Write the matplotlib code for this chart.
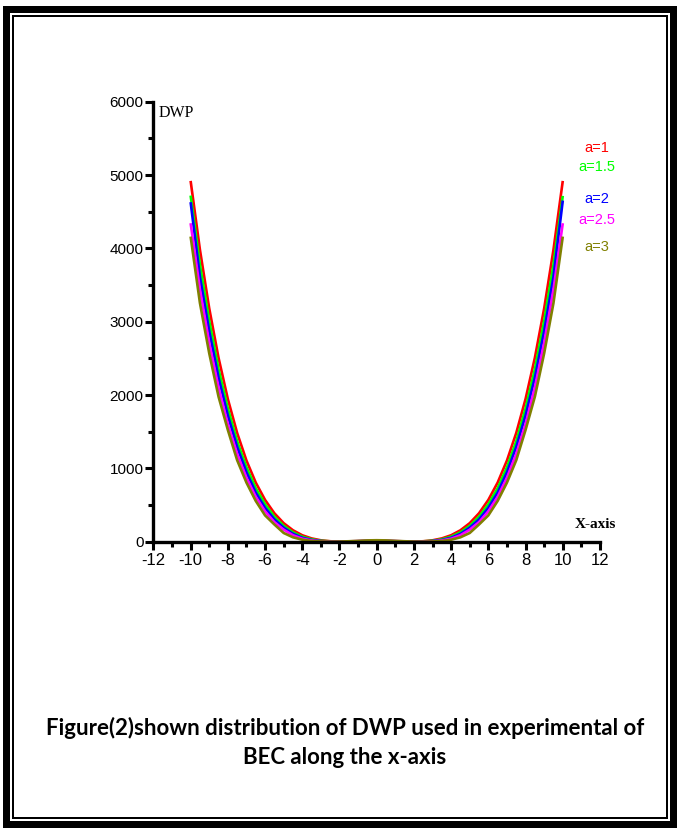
import numpy as np
import matplotlib
matplotlib.use("Agg")
import matplotlib.pyplot as plt
from matplotlib.patches import Rectangle
from matplotlib.ticker import MultipleLocator

plt.rcParams["axes.unicode_minus"] = False

W, H = 678, 830

# values
x = [-10, -9.5, -9, -8.5, -8, -7.5, -7, -6.5, -6, -5.5, -5, -4.5, -4, -3.5, -3,
     -2.5, -2, -1.5, -1, -0.5, 0, 0.5, 1, 1.5, 2, 2.5, 3, 3.5, 4, 4.5, 5,
     5.5, 6, 6.5, 7, 7.5, 8, 8.5, 9, 9.5, 10]
dwp_a1 = [4920, 3982, 3182, 2508, 1946, 1483, 1107, 806, 570, 388, 253, 156, 88,
          45, 19, 6, 1, 0, 2, 4, 5, 4, 2, 0, 1, 6, 19, 45, 88, 156, 253,
          388, 570, 806, 1107, 1483, 1946, 2508, 3182, 3982, 4920]
dwp_a15 = [4720, 3777, 3009, 2352, 1817, 1369, 1015, 728, 510, 341, 216, 128, 68,
           33, 12, 5, 2, 2, 4, 8, 10, 8, 4, 2, 2, 5, 12, 33, 68, 128, 216,
           341, 510, 728, 1015, 1369, 1817, 2352, 3009, 3777, 4716]
dwp_a2 = [4630, 3612, 2871, 2237, 1721, 1292, 947, 670, 462, 305, 191, 108, 53,
          23, 8, 3, 1, 2, 6, 11, 13, 11, 6, 2, 1, 3, 8, 23, 53, 108, 191,
          305, 462, 670, 947, 1292, 1721, 2237, 2871, 3612, 4652]
dwp_a25 = [4343, 3439, 2711, 2102, 1603, 1197, 872, 612, 414, 267, 164, 88, 41,
           17, 5, 2, 1, 4, 9, 14, 16, 14, 9, 4, 1, 2, 5, 17, 41, 88, 164,
           267, 414, 612, 872, 1197, 1603, 2102, 2711, 3439, 4343]
dwp_a3 = [4161, 3256, 2570, 1978, 1525, 1112, 806, 556, 359, 235, 119, 60, 27,
          10, 3, 1, 2, 6, 12, 18, 20, 18, 12, 6, 2, 1, 3, 10, 27, 60, 119,
          235, 359, 556, 806, 1112, 1525, 1978, 2570, 3256, 4161]

labels = ["a=1", "a=1.5", "a=2", "a=2.5", "a=3"]
colors = ["#ff0000", "#00ff00", "#0000ff", "#ff00ff", "#808000"]
series = [dwp_a1, dwp_a15, dwp_a2, dwp_a25, dwp_a3]
label_y = [5370, 5115, 4670, 4390, 4025]

caption1 = "Figure(2)shown distribution of DWP used in experimental of"
caption2 = "BEC along the x-axis"

fig = plt.figure(figsize=(W / 100, H / 100), dpi=100)

# double page border (thick outer, thin inner)
def frame(x0, y0, x1, y1, color):
    fig.add_artist(Rectangle((x0 / W, 1 - y1 / H), (x1 - x0) / W, (y1 - y0) / H,
                             transform=fig.transFigure, facecolor=color,
                             edgecolor="none", zorder=-10))

frame(3, 6, 677, 828, "black")
frame(10, 13, 670, 821, "white")
frame(12, 15, 668, 819, "black")
frame(14, 17, 666, 817, "white")

ax = fig.add_axes([153.4 / W, 1 - 541.7 / H, 446.6 / W, 440 / H])
ax.patch.set_visible(False)

for vals, c in zip(series, colors):
    ax.plot(x, vals, color=c, lw=1.9, solid_capstyle="butt")

ax.set_xlim(-12, 12)
ax.set_ylim(0, 6000)
for s in ["top", "right"]:
    ax.spines[s].set_visible(False)
for s in ["left", "bottom"]:
    ax.spines[s].set_linewidth(2.4)

ax.xaxis.set_major_locator(MultipleLocator(2))
ax.xaxis.set_minor_locator(MultipleLocator(1))
ax.yaxis.set_major_locator(MultipleLocator(1000))
ax.yaxis.set_minor_locator(MultipleLocator(500))
ax.tick_params(which="major", direction="out", length=6, width=2.2, color="black")
ax.tick_params(which="minor", direction="out", length=3.5, width=2.2, color="black")
ax.tick_params(axis="y", pad=1, labelsize=11)
ax.tick_params(axis="x", pad=2, labelsize=12)
for t in ax.get_xticklabels() + ax.get_yticklabels():
    t.set_family("Liberation Sans")

ax.text(-10.75, 5850, "DWP", family="Liberation Serif", fontsize=11.5,
        ha="center", va="center")
ax.text(11.75, 230, "X-axis", family="Liberation Serif", fontsize=11,
        fontweight="bold", ha="center", va="center")

for lab, c, yy in zip(labels, colors, label_y):
    ax.text(11.85, yy, lab, color=c, fontsize=10.5,
            family=["Liberation Sans Narrow", "Liberation Sans"],
            ha="center", va="center")

fig.text(345 / W, 1 - 728 / H, caption1, family="Lato", fontweight="bold",
         fontsize=16, ha="center", va="center")
fig.text(345 / W, 1 - 757 / H, caption2, family="Lato", fontweight="bold",
         fontsize=16, ha="center", va="center")

fig.savefig("out.png", dpi=100)
